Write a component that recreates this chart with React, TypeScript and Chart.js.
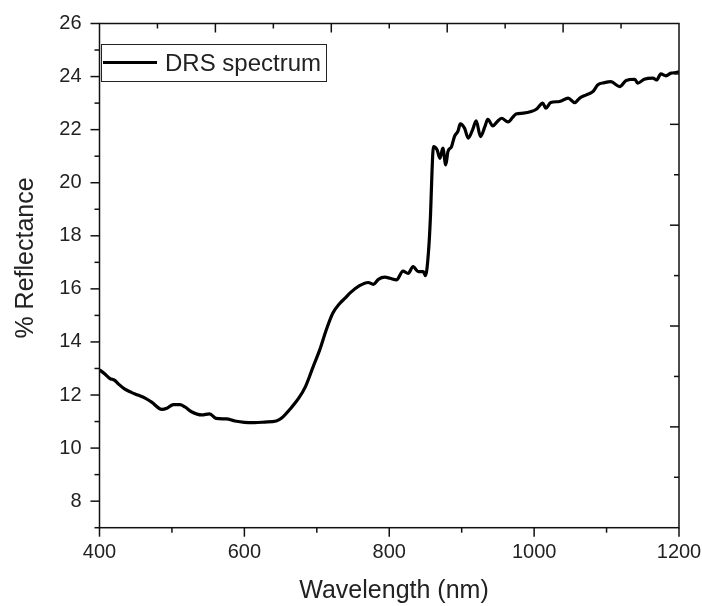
import React, { useEffect, useRef } from "react";
import { Chart, registerables } from "chart.js";

Chart.register(...registerables);

const seriesLabel = "DRS spectrum";
const xTitle = "Wavelength (nm)";
const yTitle = "% Reflectance";

const wavelengths = [
  400, 407, 414, 421, 426, 435, 444, 453, 463, 472, 486, 493, 502, 511, 518, 527, 541, 552, 561, 575,
  587, 600, 614, 628, 644, 651, 665, 675, 684, 695, 704, 713, 722, 732, 739, 746, 759, 771, 778, 785,
  794, 801, 810, 819, 826, 833, 840, 847, 850, 854, 857, 859, 861, 866, 870, 874, 878, 881, 886, 890,
  895, 898, 904, 909, 915, 920, 926, 932, 936, 943, 949, 955, 964, 970, 975, 985, 996, 1003, 1012, 1016,
  1023, 1035, 1047, 1056, 1063, 1072, 1081, 1088, 1097, 1106, 1118, 1127, 1139, 1143, 1152, 1164, 1169, 1175, 1182, 1189,
  1196, 1200,
];

const reflectance = [
  12.95, 12.8, 12.63, 12.55, 12.42, 12.22, 12.1, 12.0, 11.88, 11.73, 11.46, 11.5, 11.64, 11.64, 11.55, 11.37, 11.25, 11.29, 11.12, 11.1,
  11.02, 10.97, 10.96, 10.98, 11.02, 11.12, 11.53, 11.88, 12.3, 13.07, 13.7, 14.45, 15.08, 15.46, 15.65, 15.85, 16.12, 16.24, 16.17, 16.36,
  16.44, 16.4, 16.34, 16.67, 16.58, 16.84, 16.65, 16.65, 16.5, 17.34, 18.8, 20.4, 21.36, 21.24, 20.92, 21.3, 20.67, 21.17, 21.36, 21.74,
  21.95, 22.22, 22.05, 21.68, 21.99, 22.33, 21.74, 22.11, 22.39, 22.14, 22.3, 22.43, 22.29, 22.45, 22.59, 22.62, 22.68, 22.77, 23.0, 22.81,
  23.02, 23.06, 23.19, 23.02, 23.19, 23.31, 23.43, 23.69, 23.77, 23.81, 23.62, 23.85, 23.9, 23.75, 23.9, 23.94, 23.87, 24.1, 24.03, 24.13,
  24.15, 24.18,
];

const xTickValues = [400, 600, 800, 1000, 1200];
const xMinorValues = [500, 700, 900, 1100];
const yTickValues = [8, 10, 12, 14, 16, 18, 20, 22, 24, 26];
const yMinorValues = [7, 9, 11, 13, 15, 17, 19, 21, 23, 25];
const xRange = [400, 1200];
const yRange = [7, 26];

const FONT = "'Liberation Sans', Arial, sans-serif";
const TEXT = "#222";

const framePlugin = {
  id: "frame",
  afterDraw(chart: any) {
    const { ctx, chartArea: a, scales } = chart;
    const xs = scales.x;
    const ys = scales.y;
    ctx.save();
    ctx.strokeStyle = "#111";
    ctx.lineWidth = 1.5;
    ctx.strokeRect(a.left, a.top, a.right - a.left, a.bottom - a.top);
    const line = (x1: number, y1: number, x2: number, y2: number) => {
      ctx.beginPath();
      ctx.moveTo(x1, y1);
      ctx.lineTo(x2, y2);
      ctx.stroke();
    };
    // bottom & left outward ticks
    xTickValues.forEach((v) => { const p = xs.getPixelForValue(v); line(p, a.bottom, p, a.bottom + 9); });
    xMinorValues.forEach((v) => { const p = xs.getPixelForValue(v); line(p, a.bottom, p, a.bottom + 5); });
    yTickValues.forEach((v) => { const p = ys.getPixelForValue(v); line(a.left, p, a.left - 9, p); });
    yMinorValues.forEach((v) => { const p = ys.getPixelForValue(v); line(a.left, p, a.left - 5, p); });
    // top & right inward ticks (10 divisions)
    for (let k = 1; k < 10; k++) {
      const vx = xRange[0] + ((xRange[1] - xRange[0]) * k) / 10;
      const px = xs.getPixelForValue(vx);
      line(px, a.top, px, a.top + (k % 2 === 0 ? 9 : 5));
      const vy = yRange[1] - ((yRange[1] - yRange[0]) * k) / 10;
      const py = ys.getPixelForValue(vy);
      line(a.right, py, a.right - (k % 2 === 0 ? 9 : 5), py);
    }
    // legend
    ctx.lineWidth = 1;
    ctx.strokeStyle = "#222";
    ctx.strokeRect(101.5, 44.5, 225, 37);
    ctx.lineWidth = 3.2;
    ctx.strokeStyle = "#000";
    line(103, 62.5, 157, 62.5);
    ctx.fillStyle = TEXT;
    ctx.font = `24px ${FONT}`;
    ctx.textAlign = "left";
    ctx.textBaseline = "alphabetic";
    ctx.fillText(chart.data.datasets[0].label, 165, 71);
    // axis titles
    ctx.font = `25px ${FONT}`;
    ctx.textAlign = "center";
    ctx.fillText(xTitle, 394, 598);
    ctx.translate(33, 258);
    ctx.rotate(-Math.PI / 2);
    ctx.fillText(yTitle, 0, 0);
    ctx.restore();
  },
};

export default function App() {
  const ref = useRef<HTMLCanvasElement | null>(null);
  useEffect(() => {
    if (!ref.current) return;
    const chart = new Chart(ref.current, {
      type: "line",
      data: {
        datasets: [
          {
            label: seriesLabel,
            data: wavelengths.map((w, i) => ({ x: w, y: reflectance[i] })),
            borderColor: "#000",
            borderWidth: 3.2,
            pointRadius: 0,
            fill: false,
            cubicInterpolationMode: "monotone",
          },
        ],
      },
      options: {
        animation: false,
        responsive: false,
        maintainAspectRatio: false,
        layout: { padding: { top: 23.5, right: 23, left: 0, bottom: 0 } },
        plugins: { legend: { display: false }, tooltip: { enabled: false } },
        scales: {
          x: {
            type: "linear",
            min: xRange[0],
            max: xRange[1],
            grid: { display: false, drawTicks: false },
            border: { display: false },
            afterBuildTicks: (s: any) => { s.ticks = xTickValues.map((v) => ({ value: v })); },
            afterFit: (s: any) => { s.height = 78.3; s.paddingLeft = 0; s.paddingRight = 0; },
            ticks: { font: { size: 20, family: FONT }, color: TEXT, padding: 13, maxRotation: 0, autoSkip: false, callback: (v: any) => String(v) },
          },
          y: {
            type: "linear",
            min: yRange[0],
            max: yRange[1],
            grid: { display: false, drawTicks: false },
            border: { display: false },
            afterBuildTicks: (s: any) => { s.ticks = yTickValues.map((v) => ({ value: v })); },
            afterFit: (s: any) => { s.width = 99.5; s.paddingTop = 0; s.paddingBottom = 0; },
            ticks: { font: { size: 20, family: FONT }, color: TEXT, padding: 18, autoSkip: false, callback: (v: any) => String(v) },
          },
        },
      },
      plugins: [framePlugin],
    } as any);
    return () => chart.destroy();
  }, []);
  return (
    <div style={{ position: "absolute", left: 0, top: 0, width: 702, height: 606, background: "#fff" }}>
      <canvas ref={ref} width={702} height={606} style={{ display: "block", width: 702, height: 606 }} />
    </div>
  );
}
